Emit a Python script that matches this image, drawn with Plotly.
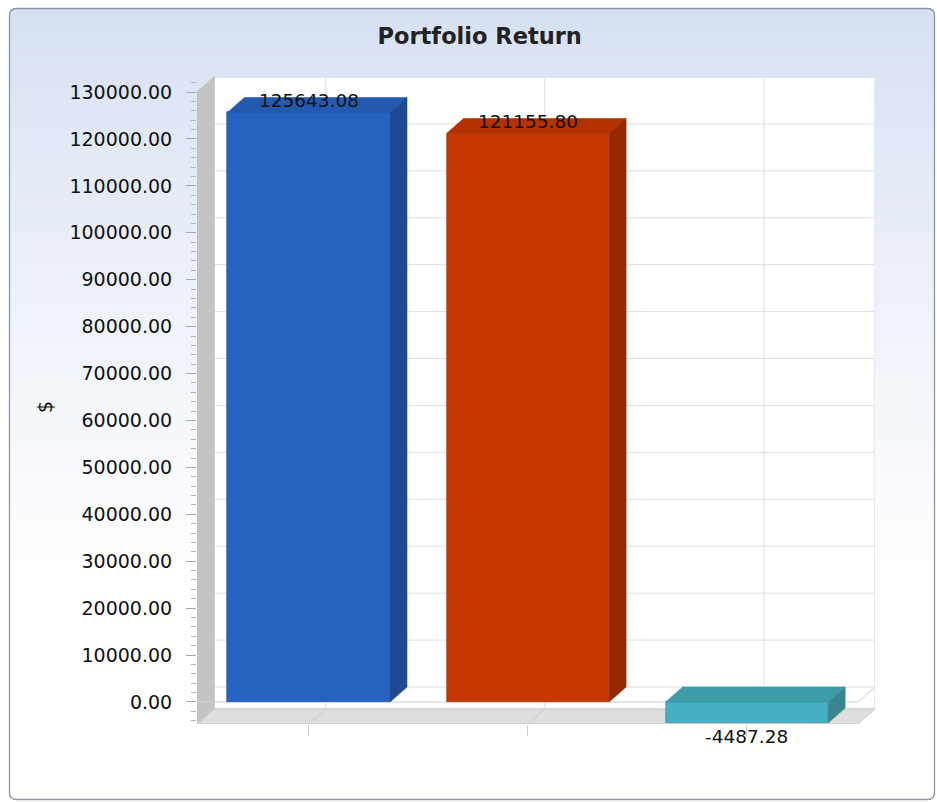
import plotly.graph_objects as go

# ---------------- data ----------------
categories = ["Series 1", "Series 2", "Series 3"]
values = [125643.08, 121155.80, -4487.28]
label_texts = ["125643.08", "121155.80", "-4487.28"]
front_colors = ["#2663C0", "#C83700", "#45B0C4"]
top_colors = ["#2359AE", "#B33200", "#3D9DA9"]
side_colors = ["#1D4A92", "#962800", "#37868F"]
y_tick_values = [0, 10000, 20000, 30000, 40000, 50000, 60000, 70000,
                 80000, 90000, 100000, 110000, 120000, 130000]
title_text = "Portfolio Return"
y_title = "$"

# ---------------- geometry (3D look) ----------------
W, H = 937, 802
L, R, T, B = 197, 62, 77, 78
plot_w = W - L - R
plot_h = H - T - B
X_MIN, X_MAX = -0.51, 2.585
DX = 0.0776            # depth in category units
DY = 3197              # depth in value units
Y_FLOOR = -4690
Y_TOP = 130000
Y_MAX = Y_TOP + DY
X_FRONT_R = X_MAX - DX
BAR_W = 0.742


def pxx(px):
    return (px - L) / plot_w


def pxy(py):
    return (H - B - py) / plot_h


fig = go.Figure()

# front faces of bars
fig.add_trace(go.Bar(
    x=list(range(len(values))), y=values, width=BAR_W,
    marker=dict(color=front_colors, line=dict(width=0.6, color=side_colors)),
    hoverinfo="skip", showlegend=False,
))

# top and side faces
for i, v in enumerate(values):
    x0, x1 = i - BAR_W / 2, i + BAR_W / 2
    top, bot = max(v, 0), min(v, 0)
    fig.add_trace(go.Scatter(
        x=[x0, x1, x1 + DX, x0 + DX, x0],
        y=[top, top, top + DY, top + DY, top],
        fill="toself", fillcolor=top_colors[i], mode="lines",
        line=dict(color=top_colors[i], width=0.6),
        hoverinfo="skip", showlegend=False,
    ))
    fig.add_trace(go.Scatter(
        x=[x1, x1 + DX, x1 + DX, x1, x1],
        y=[bot, bot + DY, top + DY, top, bot],
        fill="toself", fillcolor=side_colors[i], mode="lines",
        line=dict(color=side_colors[i], width=0.6),
        hoverinfo="skip", showlegend=False,
    ))

shapes = []

# background gradient (paper coordinates)
c0 = (0xD6, 0xE0, 0xF2)
c1 = (0xFF, 0xFF, 0xFF)
y_start, y_end, step = 9, 799, 6
py = y_start
while py < y_end:
    t = min(1.0, max(0.0, (py - y_start) / 560.0)) ** 0.85
    col = tuple(int(round(a + (b - a) * t)) for a, b in zip(c0, c1))
    shapes.append(dict(
        type="rect", xref="paper", yref="paper", layer="below",
        x0=pxx(10), x1=pxx(934), y0=pxy(min(py + step, y_end)), y1=pxy(py),
        fillcolor="rgb(%d,%d,%d)" % col, line=dict(width=0),
    ))
    py += step

# outer rounded border
r = 7
bx0, bx1, by0, by1 = 9.5, 934.5, 8.5, 799.5
path = (
    f"M {pxx(bx0 + r)},{pxy(by0)} L {pxx(bx1 - r)},{pxy(by0)} "
    f"Q {pxx(bx1)},{pxy(by0)} {pxx(bx1)},{pxy(by0 + r)} "
    f"L {pxx(bx1)},{pxy(by1 - r)} Q {pxx(bx1)},{pxy(by1)} {pxx(bx1 - r)},{pxy(by1)} "
    f"L {pxx(bx0 + r)},{pxy(by1)} Q {pxx(bx0)},{pxy(by1)} {pxx(bx0)},{pxy(by1 - r)} "
    f"L {pxx(bx0)},{pxy(by0 + r)} Q {pxx(bx0)},{pxy(by0)} {pxx(bx0 + r)},{pxy(by0)} Z"
)
shapes.append(dict(type="path", xref="paper", yref="paper", layer="above",
                   path=path, line=dict(color="#8E959E", width=1.3)))

# back wall (white)
shapes.append(dict(type="rect", xref="x", yref="y", layer="below",
                   x0=X_MIN + DX, x1=X_MAX, y0=Y_FLOOR + DY, y1=Y_MAX,
                   fillcolor="white", line=dict(color="#D2D2D2", width=1)))

# back wall horizontal grid lines
for v in y_tick_values:
    shapes.append(dict(type="line", xref="x", yref="y", layer="below",
                       x0=X_MIN + DX, x1=X_MAX, y0=v + DY, y1=v + DY,
                       line=dict(color="#DCDFE3", width=1)))
# back wall vertical grid lines
for i in range(len(categories)):
    shapes.append(dict(type="line", xref="x", yref="y", layer="below",
                       x0=i + DX, x1=i + DX, y0=Y_FLOOR + DY, y1=Y_MAX,
                       line=dict(color="#DCDFE3", width=1)))

# left wall
shapes.append(dict(
    type="path", xref="x", yref="y", layer="below",
    path=f"M {X_MIN},{Y_FLOOR} L {X_MIN},{Y_TOP} L {X_MIN + DX},{Y_MAX} "
         f"L {X_MIN + DX},{Y_FLOOR + DY} Z",
    fillcolor="#C4C4C4", line=dict(color="#BBBBBB", width=1)))

# floor
shapes.append(dict(
    type="path", xref="x", yref="y", layer="below",
    path=f"M {X_MIN},{Y_FLOOR} L {X_FRONT_R},{Y_FLOOR} L {X_MAX},{Y_FLOOR + DY} "
         f"L {X_MIN + DX},{Y_FLOOR + DY} Z",
    fillcolor="#DEDEDE", line=dict(color="#CACACA", width=1)))
for i in range(len(categories)):
    shapes.append(dict(type="line", xref="x", yref="y", layer="below",
                       x0=i, x1=i + DX, y0=Y_FLOOR, y1=Y_FLOOR + DY,
                       line=dict(color="#CDCDCD", width=1)))

# zero plane outline
shapes.append(dict(type="line", xref="x", yref="y", layer="below",
                   x0=X_MIN, x1=X_FRONT_R, y0=0, y1=0,
                   line=dict(color="#C9D2DA", width=1.2)))
shapes.append(dict(type="line", xref="x", yref="y", layer="below",
                   x0=X_FRONT_R, x1=X_MAX, y0=0, y1=DY,
                   line=dict(color="#CFCFCF", width=1)))

# annotations
annotations = [dict(
    text=y_title, textangle=-90, xref="paper", yref="paper",
    x=pxx(45), y=pxy(407), xanchor="center", yanchor="middle", showarrow=False,
    font=dict(family="DejaVu Sans", size=19, color="#111111"))]
for i, v in enumerate(values):
    annotations.append(dict(
        text=label_texts[i], x=i, y=v, xref="x", yref="y",
        xanchor="center", yanchor="middle", showarrow=False,
        yshift=12 if v >= 0 else -13,
        font=dict(family="DejaVu Sans", size=18.5, color="#111111")))

fig.update_layout(
    width=W, height=H,
    margin=dict(l=L, r=R, t=T, b=B, pad=0),
    paper_bgcolor="white",
    plot_bgcolor="rgba(0,0,0,0)",
    title=dict(text=title_text, x=479.7 / W, xanchor="center",
               y=1 - 36 / H, yanchor="middle", yref="container",
               font=dict(family="DejaVu Sans", size=22.5, color="#222222",
                         weight="bold")),
    shapes=shapes,
    annotations=annotations,
    bargap=0,
    xaxis=dict(range=[X_MIN, X_MAX], tickvals=list(range(len(categories))),
               ticktext=["" for _ in categories], ticks="outside", ticklen=11,
               tickcolor="#CDCDCD", showgrid=False, zeroline=False,
               showline=False, fixedrange=True),
    yaxis=dict(range=[Y_FLOOR, Y_MAX], tickvals=y_tick_values,
               tickformat=".2f", ticks="outside", ticklen=10,
               tickcolor="#A8A8A8", ticklabelstandoff=10,
               minor=dict(dtick=2000, ticklen=5, ticks="outside",
                          tickcolor="#B4B4B4", showgrid=False),
               showgrid=False, zeroline=False, showline=False,
               tickfont=dict(family="DejaVu Sans", size=19, color="#111111"),
               fixedrange=True),
)

fig.write_html("out.html", config={"displayModeBar": False},
               post_script="document.body.style.margin='0';")
